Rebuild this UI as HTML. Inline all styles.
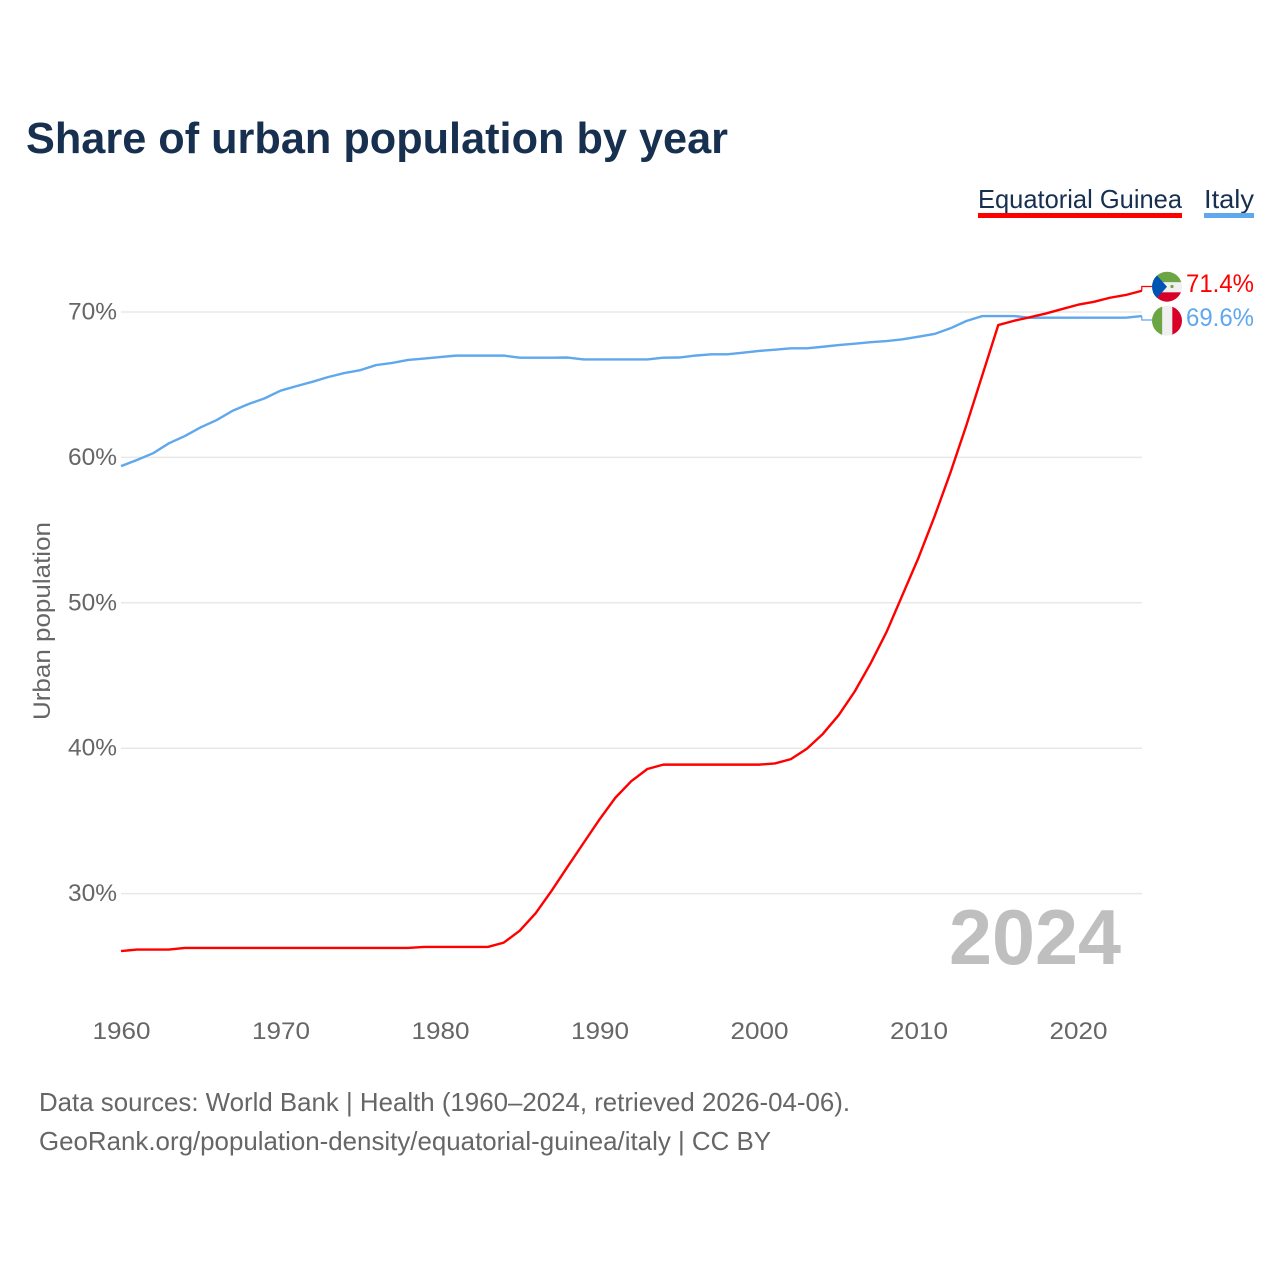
<!DOCTYPE html>
<html lang="en">
<head>
<meta charset="utf-8">
<title>Share of urban population by year</title>
<style>
html,body{margin:0;padding:0;background:#fff;width:1280px;height:1280px;overflow:hidden}
svg{display:block}
text{font-family:"Liberation Sans",sans-serif}
</style>
</head>
<body>
<svg id="chart" width="1280" height="1280" viewBox="0 0 1280 1280" xmlns="http://www.w3.org/2000/svg">
  <defs>
    <clipPath id="clip-eg"><circle cx="1167" cy="286.7" r="15"/></clipPath>
    <clipPath id="clip-it"><circle cx="1167" cy="320.7" r="15"/></clipPath>
  </defs>
  <text x="26" y="153" font-size="44" font-weight="700" fill="#17304f" textLength="702" lengthAdjust="spacingAndGlyphs">Share of urban population by year</text>

  <g>
    <g>
      <text x="978" y="208" font-size="26" fill="#17304f" textLength="204" lengthAdjust="spacingAndGlyphs">Equatorial Guinea</text>
      <rect x="978" y="213" width="204" height="5" fill="#ff0000"/>
    </g>
    <g>
      <text x="1204" y="208" font-size="26" fill="#17304f" textLength="50" lengthAdjust="spacingAndGlyphs">Italy</text>
      <rect x="1204" y="213" width="50" height="5" fill="#5fa8ee"/>
    </g>
  </g>

  <g id="grid"></g>
  <g id="yticks"></g>
  <g id="xticks"></g>

  <text transform="translate(50,621) rotate(-90)" text-anchor="middle" font-size="24" fill="#666666" textLength="198" lengthAdjust="spacingAndGlyphs">Urban population</text>

  <text x="949" y="964" font-size="78" font-weight="700" fill="#bfbfbf" textLength="172" lengthAdjust="spacingAndGlyphs">2024</text>

  <g id="series"></g>

  <g clip-path="url(#clip-eg)">
    <rect x="1152" y="271" width="30" height="11.3" fill="#6da544"/>
    <rect x="1152" y="282.3" width="30" height="10" fill="#f0f0f0"/>
    <rect x="1152" y="292.3" width="30" height="11" fill="#d80027"/>
    <polygon points="1147,264 1167,286.7 1147,309.4" fill="#0052b4"/>
    <circle cx="1172" cy="286.5" r="1.6" fill="#6da544"/>
  </g>
  <g clip-path="url(#clip-it)">
    <rect x="1152" y="305" width="10.3" height="31" fill="#6da544"/>
    <rect x="1162.3" y="305" width="10" height="31" fill="#f0f0f0"/>
    <rect x="1172.3" y="305" width="10" height="31" fill="#d80027"/>
  </g>

  <text id="label-eg" x="1186" y="292" font-size="25" fill="#ff0000" textLength="68" lengthAdjust="spacingAndGlyphs"></text>
  <text id="label-it" x="1186" y="326" font-size="25" fill="#5fa8ee" textLength="68" lengthAdjust="spacingAndGlyphs"></text>

  <g>
    <text x="39" y="1111" font-size="26" fill="#666666" textLength="811" lengthAdjust="spacingAndGlyphs">Data sources: World Bank | Health (1960–2024, retrieved 2026-04-06).</text>
    <text x="39" y="1150" font-size="26" fill="#666666" textLength="732" lengthAdjust="spacingAndGlyphs">GeoRank.org/population-density/equatorial-guinea/italy | CC BY</text>
  </g>
</svg>
<script>
const years = [1960,1961,1962,1963,1964,1965,1966,1967,1968,1969,
  1970,1971,1972,1973,1974,1975,1976,1977,1978,1979,
  1980,1981,1982,1983,1984,1985,1986,1987,1988,1989,
  1990,1991,1992,1993,1994,1995,1996,1997,1998,1999,
  2000,2001,2002,2003,2004,2005,2006,2007,2008,2009,
  2010,2011,2012,2013,2014,2015,2016,2017,2018,2019,
  2020,2021,2022,2023,2024];
const equatorialGuinea = [26.05,26.15,26.15,26.15,26.26,26.26,26.26,26.26,26.26,26.26,
  26.26,26.26,26.26,26.26,26.26,26.26,26.26,26.26,26.26,26.33,
  26.33,26.33,26.33,26.33,26.63,27.45,28.65,30.2,31.85,33.48,
  35.1,36.6,37.74,38.57,38.87,38.87,38.87,38.87,38.87,38.87,
  38.87,38.95,39.25,39.96,40.98,42.28,43.9,45.84,48.0,50.55,
  53.1,55.92,58.95,62.2,65.65,69.1,69.4,69.64,69.9,70.2,
  70.5,70.7,70.98,71.17,71.46];
const italy = [59.4,59.82,60.28,60.97,61.47,62.07,62.57,63.21,63.67,64.06,
  64.59,64.9,65.2,65.53,65.8,66.0,66.35,66.5,66.7,66.8,
  66.9,67.0,67.0,67.0,67.0,66.86,66.86,66.86,66.87,66.74,
  66.74,66.74,66.74,66.74,66.86,66.87,67.0,67.09,67.09,67.2,
  67.32,67.41,67.5,67.5,67.61,67.73,67.82,67.92,68.0,68.12,
  68.3,68.49,68.88,69.38,69.72,69.72,69.72,69.6,69.61,69.61,
  69.61,69.61,69.61,69.61,69.72];
const yTickValues = [30,40,50,60,70];
const xTickValues = [1960,1970,1980,1990,2000,2010,2020];
const endLabels = ["71.4%","69.6%"];

const SVG_NS = "http://www.w3.org/2000/svg";
const xScale = (year) => 121 + (year - 1960) * 15.95;
const yScale = (value) => 312 + (70 - value) * 14.54;
const plotRight = 1142;

function make(tag, attrs, parent) {
  const node = document.createElementNS(SVG_NS, tag);
  Object.keys(attrs).forEach((key) => node.setAttribute(key, attrs[key]));
  parent.appendChild(node);
  return node;
}

const gridGroup = document.getElementById("grid");
const yGroup = document.getElementById("yticks");
yTickValues.forEach((value) => {
  const line = make("line", {x1: 121, x2: plotRight, y1: yScale(value), y2: yScale(value), stroke: "#e8e8e8", "stroke-width": 1.5}, gridGroup);
  
  
  const label = make("text", {x: 117, y: yScale(value) + 7.5, "text-anchor": "end", "font-size": 24, fill: "#666666", textLength: 49, lengthAdjust: "spacingAndGlyphs"}, yGroup);
  label.textContent = value + "%";
  
  
});

const xGroup = document.getElementById("xticks");
xTickValues.forEach((year) => {
  const label = make("text", {x: xScale(year) + 0.5, y: 1039, "text-anchor": "middle", "font-size": 24, fill: "#666666", textLength: 58, lengthAdjust: "spacingAndGlyphs"}, xGroup);
  label.textContent = String(year);
  
  
});

const seriesGroup = document.getElementById("series");
function drawSeries(values, color, flagY, name) {
  const pts = values.map((value, i) => xScale(years[i]).toFixed(2) + "," + yScale(value).toFixed(2));
  const line = make("polyline", {points: pts.join(" "), fill: "none", stroke: color, "stroke-width": 2.4, "stroke-linejoin": "round"}, seriesGroup);
  
  
  const endX = xScale(years[years.length - 1]);
  const endY = yScale(values[values.length - 1]);
  const connector = make("polyline", {points: endX.toFixed(2) + "," + endY.toFixed(2) + " " + endX.toFixed(2) + "," + flagY + " 1153," + flagY, fill: "none", stroke: color, "stroke-width": 1.2}, seriesGroup);
  
  
}
drawSeries(italy, "#5fa8ee", 320, "italy");
drawSeries(equatorialGuinea, "#ff0000", 286.5, "equatorial-guinea");

document.getElementById("label-eg").textContent = endLabels[0];
document.getElementById("label-it").textContent = endLabels[1];
</script>
</body>
</html>
